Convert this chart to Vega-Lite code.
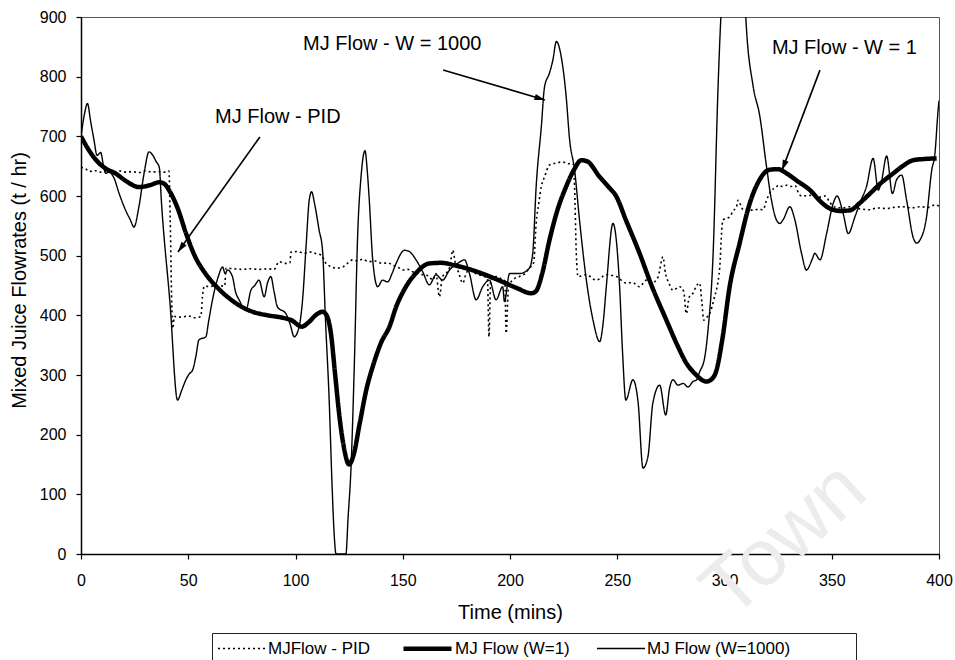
{
  "$schema": "https://vega.github.io/schema/vega-lite/v6.json",
  "width": 858,
  "height": 537,
  "autosize": {"type": "none"},
  "padding": {"left": 81, "top": 17, "right": 16, "bottom": 106},
  "background": "white",
  "layer": [
    {
      "data": {"values": [{"t": 328, "v": 23, "label": "Town"}]},
      "mark": {"type": "text", "fontSize": 80, "angle": -42, "color": "#ececec", "align": "center", "baseline": "middle", "font": "Liberation Sans"},
      "encoding": {
        "x": {"field": "t", "type": "quantitative", "scale": {"domain": [0, 400], "nice": false}},
        "y": {"field": "v", "type": "quantitative", "scale": {"domain": [0, 900], "nice": false}},
        "text": {"field": "label"}
      }
    },
    {
      "data": {"values": [
        {"s":"W1000","t":0,"v":700},{"s":"W1000","t":1.5,"v":735},{"s":"W1000","t":3,"v":755},{"s":"W1000","t":4.5,"v":725},{"s":"W1000","t":6,"v":695},{"s":"W1000","t":7.5,"v":668},{"s":"W1000","t":9.2,"v":673},{"s":"W1000","t":10.5,"v":650},{"s":"W1000","t":11.5,"v":638},{"s":"W1000","t":13,"v":640},{"s":"W1000","t":15.4,"v":630},{"s":"W1000","t":17.7,"v":605},{"s":"W1000","t":20.8,"v":576},{"s":"W1000","t":23,"v":560},{"s":"W1000","t":24.7,"v":548},{"s":"W1000","t":27,"v":582},{"s":"W1000","t":29.5,"v":640},{"s":"W1000","t":31.7,"v":674},{"s":"W1000","t":33.5,"v":668},{"s":"W1000","t":35,"v":658},{"s":"W1000","t":36.5,"v":648},{"s":"W1000","t":37.5,"v":590},{"s":"W1000","t":41.5,"v":420},{"s":"W1000","t":45,"v":258},{"s":"W1000","t":47,"v":275},{"s":"W1000","t":48.9,"v":292},{"s":"W1000","t":50.5,"v":302},{"s":"W1000","t":52,"v":308},{"s":"W1000","t":53.5,"v":330},{"s":"W1000","t":55,"v":359},{"s":"W1000","t":58.2,"v":364},{"s":"W1000","t":59.5,"v":390},{"s":"W1000","t":61.3,"v":426},{"s":"W1000","t":64,"v":465},{"s":"W1000","t":66,"v":481},{"s":"W1000","t":67.2,"v":470},{"s":"W1000","t":68.3,"v":476},{"s":"W1000","t":70.6,"v":465},{"s":"W1000","t":72,"v":440},{"s":"W1000","t":73.7,"v":426},{"s":"W1000","t":76.9,"v":409},{"s":"W1000","t":79.2,"v":442},{"s":"W1000","t":81,"v":450},{"s":"W1000","t":83,"v":459},{"s":"W1000","t":85.4,"v":431},{"s":"W1000","t":87,"v":455},{"s":"W1000","t":88.5,"v":465},{"s":"W1000","t":90,"v":440},{"s":"W1000","t":91.6,"v":414},{"s":"W1000","t":95.5,"v":403},{"s":"W1000","t":97.5,"v":385},{"s":"W1000","t":99.4,"v":364},{"s":"W1000","t":101.7,"v":381},{"s":"W1000","t":103.3,"v":426},{"s":"W1000","t":105,"v":520},{"s":"W1000","t":106.4,"v":593},{"s":"W1000","t":107.5,"v":607},{"s":"W1000","t":109,"v":585},{"s":"W1000","t":111,"v":543},{"s":"W1000","t":112.6,"v":509},{"s":"W1000","t":114,"v":390},{"s":"W1000","t":115.7,"v":258},{"s":"W1000","t":117,"v":120},{"s":"W1000","t":118,"v":35},{"s":"W1000","t":118.9,"v":0},{"s":"W1000","t":121,"v":0},{"s":"W1000","t":123.5,"v":0},{"s":"W1000","t":124.5,"v":60},{"s":"W1000","t":125.9,"v":146},{"s":"W1000","t":127.4,"v":314},{"s":"W1000","t":129,"v":537},{"s":"W1000","t":130.5,"v":630},{"s":"W1000","t":132.4,"v":676},{"s":"W1000","t":133.5,"v":640},{"s":"W1000","t":134.4,"v":593},{"s":"W1000","t":136,"v":493},{"s":"W1000","t":138.3,"v":448},{"s":"W1000","t":140.6,"v":459},{"s":"W1000","t":143,"v":456},{"s":"W1000","t":145,"v":470},{"s":"W1000","t":146.9,"v":487},{"s":"W1000","t":150.8,"v":509},{"s":"W1000","t":153,"v":507},{"s":"W1000","t":156.2,"v":493},{"s":"W1000","t":159.3,"v":473},{"s":"W1000","t":162.4,"v":451},{"s":"W1000","t":165.5,"v":468},{"s":"W1000","t":168.6,"v":459},{"s":"W1000","t":171.8,"v":476},{"s":"W1000","t":175.6,"v":487},{"s":"W1000","t":178.8,"v":493},{"s":"W1000","t":181.1,"v":470},{"s":"W1000","t":184.2,"v":426},{"s":"W1000","t":187.3,"v":448},{"s":"W1000","t":190.4,"v":459},{"s":"W1000","t":193.5,"v":426},{"s":"W1000","t":196.6,"v":448},{"s":"W1000","t":197.4,"v":423},{"s":"W1000","t":199.8,"v":470},{"s":"W1000","t":204.4,"v":470},{"s":"W1000","t":209,"v":479},{"s":"W1000","t":210.6,"v":504},{"s":"W1000","t":212.2,"v":616},{"s":"W1000","t":214.6,"v":716},{"s":"W1000","t":216.1,"v":783},{"s":"W1000","t":218.4,"v":806},{"s":"W1000","t":220,"v":828},{"s":"W1000","t":221.6,"v":859},{"s":"W1000","t":223.9,"v":833},{"s":"W1000","t":226.2,"v":766},{"s":"W1000","t":227.8,"v":694},{"s":"W1000","t":230.1,"v":644},{"s":"W1000","t":232.4,"v":560},{"s":"W1000","t":235.6,"v":459},{"s":"W1000","t":238.7,"v":392},{"s":"W1000","t":241.8,"v":356},{"s":"W1000","t":243.5,"v":390},{"s":"W1000","t":244.9,"v":448},{"s":"W1000","t":248,"v":554},{"s":"W1000","t":251.1,"v":448},{"s":"W1000","t":252.5,"v":336},{"s":"W1000","t":254,"v":258},{"s":"W1000","t":257.3,"v":292},{"s":"W1000","t":259.7,"v":255},{"s":"W1000","t":262,"v":144},{"s":"W1000","t":264.3,"v":163},{"s":"W1000","t":266.6,"v":253},{"s":"W1000","t":269.8,"v":283},{"s":"W1000","t":272.6,"v":233},{"s":"W1000","t":274.4,"v":278},{"s":"W1000","t":276,"v":292},{"s":"W1000","t":278.3,"v":283},{"s":"W1000","t":280.7,"v":286},{"s":"W1000","t":283,"v":280},{"s":"W1000","t":285.3,"v":289},{"s":"W1000","t":287,"v":292},{"s":"W1000","t":288.4,"v":305},{"s":"W1000","t":290.8,"v":330},{"s":"W1000","t":292.3,"v":375},{"s":"W1000","t":294.7,"v":504},{"s":"W1000","t":297,"v":783},{"s":"W1000","t":298.6,"v":920},{"s":"W1000","t":300,"v":980},{"s":"W1000","t":304,"v":1010},{"s":"W1000","t":308,"v":990},{"s":"W1000","t":309.5,"v":930},{"s":"W1000","t":310,"v":895},{"s":"W1000","t":313.3,"v":785},{"s":"W1000","t":316.4,"v":735},{"s":"W1000","t":319.6,"v":649},{"s":"W1000","t":321.9,"v":593},{"s":"W1000","t":324.2,"v":560},{"s":"W1000","t":325.8,"v":554},{"s":"W1000","t":327.3,"v":560},{"s":"W1000","t":330.5,"v":582},{"s":"W1000","t":332.8,"v":560},{"s":"W1000","t":335.9,"v":504},{"s":"W1000","t":338.2,"v":476},{"s":"W1000","t":341,"v":495},{"s":"W1000","t":342.1,"v":504},{"s":"W1000","t":344.5,"v":493},{"s":"W1000","t":347.6,"v":537},{"s":"W1000","t":350.7,"v":588},{"s":"W1000","t":352.5,"v":600},{"s":"W1000","t":355.3,"v":571},{"s":"W1000","t":357.7,"v":537},{"s":"W1000","t":360.8,"v":565},{"s":"W1000","t":363.1,"v":588},{"s":"W1000","t":366.2,"v":616},{"s":"W1000","t":369.3,"v":663},{"s":"W1000","t":371.7,"v":610},{"s":"W1000","t":373.2,"v":625},{"s":"W1000","t":375.6,"v":667},{"s":"W1000","t":378.3,"v":604},{"s":"W1000","t":380.2,"v":627},{"s":"W1000","t":382.6,"v":635},{"s":"W1000","t":384.9,"v":593},{"s":"W1000","t":388,"v":530},{"s":"W1000","t":389.6,"v":521},{"s":"W1000","t":391.1,"v":526},{"s":"W1000","t":394.2,"v":565},{"s":"W1000","t":396.6,"v":643},{"s":"W1000","t":398.1,"v":671},{"s":"W1000","t":399.5,"v":740},{"s":"W1000","t":400,"v":760},
        {"s":"PID","t":0,"v":648},{"s":"PID","t":2,"v":646},{"s":"PID","t":4,"v":641},{"s":"PID","t":6,"v":643},{"s":"PID","t":9,"v":640},{"s":"PID","t":12,"v":642},{"s":"PID","t":15,"v":640},{"s":"PID","t":18,"v":642},{"s":"PID","t":21,"v":640},{"s":"PID","t":24,"v":641},{"s":"PID","t":27,"v":639},{"s":"PID","t":30,"v":642},{"s":"PID","t":33,"v":640},{"s":"PID","t":36,"v":641},{"s":"PID","t":39,"v":640},{"s":"PID","t":41,"v":642},{"s":"PID","t":41.6,"v":560},{"s":"PID","t":42.3,"v":420},{"s":"PID","t":42.8,"v":378},{"s":"PID","t":43.5,"v":398},{"s":"PID","t":47,"v":397},{"s":"PID","t":50,"v":399},{"s":"PID","t":53,"v":396},{"s":"PID","t":55.9,"v":398},{"s":"PID","t":56.6,"v":431},{"s":"PID","t":57.5,"v":449},{"s":"PID","t":60,"v":448},{"s":"PID","t":63,"v":450},{"s":"PID","t":67,"v":449},{"s":"PID","t":67.6,"v":479},{"s":"PID","t":71,"v":478},{"s":"PID","t":75,"v":477},{"s":"PID","t":79,"v":478},{"s":"PID","t":83,"v":477},{"s":"PID","t":87,"v":478},{"s":"PID","t":90,"v":477},{"s":"PID","t":92.4,"v":490},{"s":"PID","t":95,"v":487},{"s":"PID","t":97.4,"v":488},{"s":"PID","t":97.9,"v":506},{"s":"PID","t":101,"v":507},{"s":"PID","t":104,"v":504},{"s":"PID","t":107,"v":506},{"s":"PID","t":110,"v":503},{"s":"PID","t":112,"v":501},{"s":"PID","t":114.2,"v":487},{"s":"PID","t":116.5,"v":482},{"s":"PID","t":118.9,"v":479},{"s":"PID","t":122,"v":481},{"s":"PID","t":124.5,"v":488},{"s":"PID","t":126.6,"v":493},{"s":"PID","t":129,"v":491},{"s":"PID","t":131.3,"v":494},{"s":"PID","t":134,"v":490},{"s":"PID","t":137,"v":491},{"s":"PID","t":140.6,"v":487},{"s":"PID","t":143,"v":488},{"s":"PID","t":145.3,"v":484},{"s":"PID","t":148,"v":480},{"s":"PID","t":150,"v":476},{"s":"PID","t":152.5,"v":477},{"s":"PID","t":154.6,"v":473},{"s":"PID","t":157,"v":470},{"s":"PID","t":159.3,"v":468},{"s":"PID","t":162,"v":466},{"s":"PID","t":164,"v":459},{"s":"PID","t":165.5,"v":470},{"s":"PID","t":167.1,"v":431},{"s":"PID","t":168.5,"v":465},{"s":"PID","t":170.2,"v":470},{"s":"PID","t":172,"v":482},{"s":"PID","t":173.3,"v":509},{"s":"PID","t":174.5,"v":488},{"s":"PID","t":176,"v":472},{"s":"PID","t":178,"v":454},{"s":"PID","t":179.5,"v":470},{"s":"PID","t":181.1,"v":476},{"s":"PID","t":184,"v":470},{"s":"PID","t":187,"v":466},{"s":"PID","t":189.5,"v":462},{"s":"PID","t":190.2,"v":364},{"s":"PID","t":191,"v":460},{"s":"PID","t":193.5,"v":465},{"s":"PID","t":196,"v":461},{"s":"PID","t":197.6,"v":458},{"s":"PID","t":198.2,"v":370},{"s":"PID","t":199.3,"v":448},{"s":"PID","t":201.5,"v":460},{"s":"PID","t":204.4,"v":465},{"s":"PID","t":207,"v":470},{"s":"PID","t":209,"v":479},{"s":"PID","t":211,"v":488},{"s":"PID","t":212.2,"v":554},{"s":"PID","t":213.5,"v":590},{"s":"PID","t":214.6,"v":616},{"s":"PID","t":216.1,"v":632},{"s":"PID","t":218.4,"v":652},{"s":"PID","t":221,"v":655},{"s":"PID","t":224.7,"v":657},{"s":"PID","t":227,"v":654},{"s":"PID","t":229.3,"v":655},{"s":"PID","t":230.1,"v":616},{"s":"PID","t":230.9,"v":504},{"s":"PID","t":231.7,"v":465},{"s":"PID","t":235.6,"v":468},{"s":"PID","t":240.2,"v":459},{"s":"PID","t":244.9,"v":468},{"s":"PID","t":249.6,"v":465},{"s":"PID","t":254.2,"v":454},{"s":"PID","t":257,"v":455},{"s":"PID","t":260.4,"v":448},{"s":"PID","t":263.6,"v":459},{"s":"PID","t":266.5,"v":455},{"s":"PID","t":269,"v":464},{"s":"PID","t":271.3,"v":498},{"s":"PID","t":272.5,"v":470},{"s":"PID","t":274,"v":455},{"s":"PID","t":276,"v":442},{"s":"PID","t":279.1,"v":448},{"s":"PID","t":281,"v":440},{"s":"PID","t":282.2,"v":403},{"s":"PID","t":283.5,"v":430},{"s":"PID","t":285.3,"v":437},{"s":"PID","t":287,"v":450},{"s":"PID","t":288.4,"v":454},{"s":"PID","t":289.5,"v":420},{"s":"PID","t":290.3,"v":392},{"s":"PID","t":291.5,"v":396},{"s":"PID","t":293.1,"v":403},{"s":"PID","t":295,"v":426},{"s":"PID","t":297.8,"v":481},{"s":"PID","t":298.6,"v":537},{"s":"PID","t":299.3,"v":560},{"s":"PID","t":302.4,"v":565},{"s":"PID","t":304,"v":575},{"s":"PID","t":305.6,"v":582},{"s":"PID","t":306.3,"v":593},{"s":"PID","t":307.5,"v":585},{"s":"PID","t":308.7,"v":577},{"s":"PID","t":311,"v":578},{"s":"PID","t":313.3,"v":576},{"s":"PID","t":316,"v":578},{"s":"PID","t":318,"v":577},{"s":"PID","t":319.6,"v":593},{"s":"PID","t":322,"v":610},{"s":"PID","t":324,"v":614},{"s":"PID","t":325,"v":618},{"s":"PID","t":327,"v":616},{"s":"PID","t":329,"v":618},{"s":"PID","t":331,"v":616},{"s":"PID","t":333,"v":617},{"s":"PID","t":334.5,"v":605},{"s":"PID","t":336,"v":600},{"s":"PID","t":340,"v":601},{"s":"PID","t":344,"v":598},{"s":"PID","t":347,"v":600},{"s":"PID","t":349,"v":590},{"s":"PID","t":351,"v":582},{"s":"PID","t":355,"v":580},{"s":"PID","t":358,"v":582},{"s":"PID","t":361,"v":580},{"s":"PID","t":364,"v":578},{"s":"PID","t":367.8,"v":577},{"s":"PID","t":371,"v":580},{"s":"PID","t":375.6,"v":579},{"s":"PID","t":379,"v":581},{"s":"PID","t":383.3,"v":582},{"s":"PID","t":387,"v":580},{"s":"PID","t":391.1,"v":582},{"s":"PID","t":395,"v":581},{"s":"PID","t":398.1,"v":585},{"s":"PID","t":400,"v":583},
        {"s":"W1","t":0,"v":700},{"s":"W1","t":4,"v":675},{"s":"W1","t":8.4,"v":655},{"s":"W1","t":12,"v":645},{"s":"W1","t":16,"v":638},{"s":"W1","t":21,"v":625},{"s":"W1","t":27,"v":615},{"s":"W1","t":32,"v":618},{"s":"W1","t":36.5,"v":623},{"s":"W1","t":39,"v":620},{"s":"W1","t":41,"v":610},{"s":"W1","t":45,"v":580},{"s":"W1","t":49,"v":537},{"s":"W1","t":53,"v":500},{"s":"W1","t":58,"v":470},{"s":"W1","t":64,"v":445},{"s":"W1","t":70,"v":426},{"s":"W1","t":75,"v":414},{"s":"W1","t":80,"v":406},{"s":"W1","t":87,"v":400},{"s":"W1","t":94,"v":396},{"s":"W1","t":98,"v":392},{"s":"W1","t":103,"v":381},{"s":"W1","t":106,"v":388},{"s":"W1","t":110,"v":402},{"s":"W1","t":112.6,"v":406},{"s":"W1","t":114.5,"v":400},{"s":"W1","t":116.5,"v":370},{"s":"W1","t":118.5,"v":300},{"s":"W1","t":120.5,"v":230},{"s":"W1","t":122.5,"v":180},{"s":"W1","t":125,"v":150},{"s":"W1","t":127,"v":165},{"s":"W1","t":130,"v":220},{"s":"W1","t":133,"v":275},{"s":"W1","t":136,"v":314},{"s":"W1","t":140,"v":355},{"s":"W1","t":143.8,"v":381},{"s":"W1","t":147,"v":415},{"s":"W1","t":151.5,"v":448},{"s":"W1","t":156,"v":470},{"s":"W1","t":162.4,"v":487},{"s":"W1","t":168,"v":488},{"s":"W1","t":174,"v":484},{"s":"W1","t":179.5,"v":479},{"s":"W1","t":187,"v":470},{"s":"W1","t":196.6,"v":456},{"s":"W1","t":203,"v":446},{"s":"W1","t":209.9,"v":437},{"s":"W1","t":212,"v":440},{"s":"W1","t":215,"v":470},{"s":"W1","t":218.4,"v":526},{"s":"W1","t":222,"v":575},{"s":"W1","t":226.2,"v":616},{"s":"W1","t":230,"v":645},{"s":"W1","t":233.2,"v":660},{"s":"W1","t":236,"v":658},{"s":"W1","t":241.8,"v":632},{"s":"W1","t":246,"v":615},{"s":"W1","t":249.6,"v":599},{"s":"W1","t":254,"v":560},{"s":"W1","t":260.4,"v":504},{"s":"W1","t":266,"v":450},{"s":"W1","t":272.9,"v":392},{"s":"W1","t":278,"v":350},{"s":"W1","t":282.2,"v":320},{"s":"W1","t":286,"v":303},{"s":"W1","t":291.6,"v":289},{"s":"W1","t":294,"v":293},{"s":"W1","t":296,"v":305},{"s":"W1","t":299,"v":360},{"s":"W1","t":302.4,"v":448},{"s":"W1","t":307,"v":520},{"s":"W1","t":311.8,"v":588},{"s":"W1","t":316,"v":625},{"s":"W1","t":321,"v":644},{"s":"W1","t":325,"v":645},{"s":"W1","t":328.9,"v":638},{"s":"W1","t":334,"v":625},{"s":"W1","t":339.8,"v":610},{"s":"W1","t":345,"v":590},{"s":"W1","t":349.1,"v":579},{"s":"W1","t":354,"v":575},{"s":"W1","t":358.5,"v":576},{"s":"W1","t":363,"v":588},{"s":"W1","t":367.8,"v":604},{"s":"W1","t":373,"v":622},{"s":"W1","t":378.7,"v":638},{"s":"W1","t":383,"v":650},{"s":"W1","t":388,"v":660},{"s":"W1","t":393,"v":662},{"s":"W1","t":398.9,"v":663}
      ]},
      "mark": {"type": "line", "interpolate": "monotone", "clip": true, "color": "#000"},
      "encoding": {
        "x": {"field": "t", "type": "quantitative", "scale": {"domain": [0, 400], "nice": false},
              "axis": {"values": [0, 50, 100, 150, 200, 250, 300, 350, 400], "title": "Time (mins)", "labelPadding": 13, "titleY": 64, "titleBaseline": "alphabetic"}},
        "y": {"field": "v", "type": "quantitative", "scale": {"domain": [0, 900], "nice": false},
              "axis": {"values": [0, 100, 200, 300, 400, 500, 600, 700, 800, 900], "title": "Mixed Juice Flowrates (t / hr)", "labelPadding": 10, "titleX": -56, "titleY": 263, "titleBaseline": "alphabetic"}},
        "strokeDash": {"field": "s", "type": "nominal",
              "scale": {"domain": ["PID", "W1", "W1000"], "range": [[2, 3], [1, 0], [1, 0]]},
              "legend": {"title": null, "labelExpr": "datum.label == 'PID' ? 'MJFlow - PID' : datum.label == 'W1' ? 'MJ Flow (W=1)' : 'MJ Flow (W=1000)\u2800\u2800\u2800\u2800\u2800'"}},
        "strokeWidth": {"field": "s", "type": "nominal",
              "scale": {"type": "ordinal", "domain": ["PID", "W1", "W1000"], "range": [1.6, 4.5, 1.4]},
              "legend": {"title": null, "labelExpr": "datum.label == 'PID' ? 'MJFlow - PID' : datum.label == 'W1' ? 'MJ Flow (W=1)' : 'MJ Flow (W=1000)\u2800\u2800\u2800\u2800\u2800'"}},
        "order": {"field": "t", "type": "quantitative"}
      }
    },
    {
      "data": {"values": [
        {"label": "MJ Flow - PID", "t": 62.5, "v": 732},
        {"label": "MJ Flow - W = 1000", "t": 103.5, "v": 854},
        {"label": "MJ Flow - W = 1", "t": 322.1, "v": 848}
      ]},
      "mark": {"type": "text", "align": "left", "baseline": "middle", "fontSize": 20, "font": "Liberation Sans", "color": "#000"},
      "encoding": {
        "x": {"field": "t", "type": "quantitative"},
        "y": {"field": "v", "type": "quantitative"},
        "text": {"field": "label"}
      }
    },
    {
      "data": {"values": [
        {"t": 83.4, "v": 699, "t2": 45.2, "v2": 506},
        {"t": 168.8, "v": 811, "t2": 216.3, "v2": 761},
        {"t": 344.5, "v": 811, "t2": 326.8, "v2": 643}
      ]},
      "mark": {"type": "rule", "color": "#000", "strokeWidth": 1.6},
      "encoding": {
        "x": {"field": "t", "type": "quantitative"},
        "y": {"field": "v", "type": "quantitative"},
        "x2": {"field": "t2"},
        "y2": {"field": "v2"}
      }
    },
    {
      "data": {"values": [{"t": 45.2, "v": 506}]},
      "mark": {"type": "point", "shape": "M0,0L-0.6,2L0.6,2Z", "filled": true, "color": "#000", "opacity": 1, "size": 110, "angle": 215.5},
      "encoding": {"x": {"field": "t", "type": "quantitative"}, "y": {"field": "v", "type": "quantitative"}}
    },
    {
      "data": {"values": [{"t": 216.3, "v": 761}]},
      "mark": {"type": "point", "shape": "M0,0L-0.6,2L0.6,2Z", "filled": true, "color": "#000", "opacity": 1, "size": 110, "angle": 106.4},
      "encoding": {"x": {"field": "t", "type": "quantitative"}, "y": {"field": "v", "type": "quantitative"}}
    },
    {
      "data": {"values": [{"t": 326.8, "v": 643}]},
      "mark": {"type": "point", "shape": "M0,0L-0.6,2L0.6,2Z", "filled": true, "color": "#000", "opacity": 1, "size": 110, "angle": 200.8},
      "encoding": {"x": {"field": "t", "type": "quantitative"}, "y": {"field": "v", "type": "quantitative"}}
    }
  ],
  "config": {
    "view": {"stroke": "#555", "strokeWidth": 1},
    "font": "Liberation Sans",
    "axis": {
      "domainColor": "#000", "tickColor": "#000", "labelColor": "#000", "titleColor": "#000",
      "labelFont": "Liberation Sans", "titleFont": "Liberation Sans",
      "labelFontSize": 16, "titleFontSize": 20, "titleFontWeight": "normal",
      "grid": false, "tickSize": 5, "domainWidth": 1.5, "tickWidth": 1.2,
      "labelFlush": false, "labelOverlap": false, "zindex": 1
    },
    "legend": {
      "orient": "none", "legendX": 131, "legendY": 616, "direction": "horizontal",
      "padding": 5, "strokeColor": "#222", "fillColor": "white",
      "labelFont": "Liberation Sans", "labelFontSize": 17, "labelColor": "#000", "labelLimit": 400,
      "labelOffset": 33, "columnPadding": 24, "symbolSize": 256, "symbolType": "M-1,0L5,0",
      "symbolStrokeColor": "#000"
    }
  }
}
